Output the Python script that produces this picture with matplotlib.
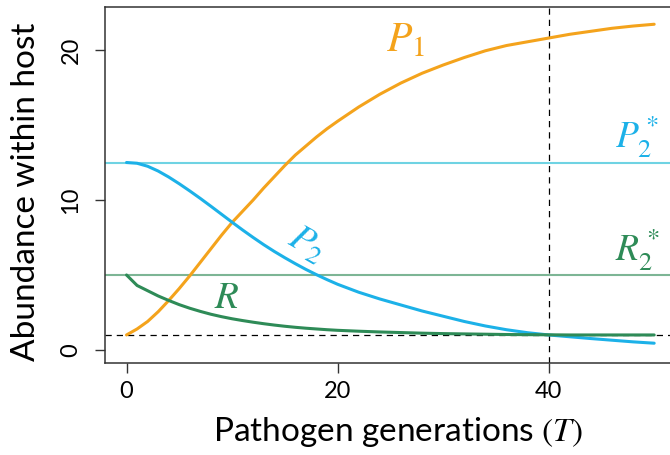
import numpy as np
import matplotlib.pyplot as plt

plt.rcParams['font.family'] = ['Lato', 'DejaVu Sans']
plt.rcParams['mathtext.fontset'] = 'stix'

# generations where values were read
T = [0, 1, 2, 3, 4, 5, 6, 7, 8, 9, 10, 11, 12, 13, 14, 15, 16, 17, 18, 19, 20,
     22, 24, 26, 28, 30, 32, 34, 36, 38, 40, 42, 44, 46, 48, 50]
# pathogen 1
P1 = [1.0, 1.4, 1.9, 2.55, 3.3, 4.1, 4.95, 5.85, 6.75, 7.65, 8.5, 9.25, 10.0, 10.8, 11.55,
      12.3, 13.0, 13.6, 14.2, 14.75, 15.25,
      16.2, 17.05, 17.8, 18.45, 19.0, 19.5, 19.95, 20.3, 20.55, 20.8, 21.05, 21.25, 21.45, 21.6, 21.72]
# pathogen 2
P2 = [12.5, 12.45, 12.25, 11.93, 11.53, 11.08, 10.6, 10.1, 9.58, 9.05, 8.52, 8.0, 7.5, 7.02, 6.57,
      6.15, 5.75, 5.37, 5.02, 4.69, 4.38,
      3.85, 3.4, 3.0, 2.6, 2.25, 1.9, 1.6, 1.35, 1.15, 1.0, 0.88, 0.76, 0.65, 0.54, 0.45]
# resource
R = [5.0, 4.3, 3.95, 3.6, 3.3, 3.02, 2.78, 2.57, 2.38, 2.22, 2.08, 1.96, 1.85, 1.75, 1.66,
     1.58, 1.51, 1.45, 1.4, 1.35, 1.31,
     1.25, 1.2, 1.16, 1.12, 1.09, 1.07, 1.05, 1.03, 1.02, 1.01, 1.0, 1.0, 1.0, 1.0, 1.0]

P2_star = 12.5
R2_star = 5.0
R_crit = 1.0
T_mark = 40

c_p1 = '#f4a31c'
c_p2 = '#1cb1e8'
c_r = '#2e8b57'

fig = plt.figure(figsize=(6.7, 4.55), dpi=100)
ax = fig.add_axes([105 / 670, 1 - 363 / 455, 1 - 105 / 670, 356 / 455])

ax.axhline(P2_star, color='#6fd3e3', lw=1.5)
ax.axhline(R2_star, color='#7db595', lw=1.5)
ax.axhline(R_crit, color='black', lw=0.9, ls=(0, (5, 4)))
ax.axvline(T_mark, color='black', lw=0.9, ls=(0, (5, 4)))

ax.plot(T, P1, color=c_p1, lw=2.2, solid_capstyle='round', solid_joinstyle='round')
ax.plot(T, P2, color=c_p2, lw=2.2, solid_capstyle='round', solid_joinstyle='round')
ax.plot(T, R, color=c_r, lw=2.2, solid_capstyle='round', solid_joinstyle='round')

ax.text(26.4, 20.7, r'$P_1$', color=c_p1, fontsize=30, ha='center', va='center')
ax.text(17.1, 7.1, r'$P_2$', color=c_p2, fontsize=27, ha='center', va='center', rotation=-30)
ax.text(9.5, 3.5, r'$R$', color=c_r, fontsize=28, ha='center', va='center')
ax.text(48.4, 14.2, r'$P_2^*$', color=c_p2, fontsize=27, ha='center', va='center')
ax.text(48.4, 6.7, r'$R_2^*$', color=c_r, fontsize=27, ha='center', va='center')

ax.set_xlim(-2.04, 51.5)
ax.set_ylim(-0.87, 22.87)
ax.set_xticks([0, 20, 40])
ax.set_yticks([0, 10, 20])
ax.tick_params(axis='both', length=7, width=1, color='#333333', labelsize=17)
ax.tick_params(axis='x', pad=6)
ax.tick_params(axis='y', pad=10)
for lab in ax.get_yticklabels():
    lab.set_rotation(90)
    lab.set_va('center')

ax.spines['right'].set_visible(False)
for s in ['left', 'top', 'bottom']:
    ax.spines[s].set_color('#333333')
    ax.spines[s].set_linewidth(1.1)

ax.set_xlabel(r'Pathogen generations $\mathit{(T)}$', fontsize=24, va='center')
ax.set_ylabel('Abundance within host', fontsize=24, va='center')
ax.xaxis.set_label_coords(0.519, -0.194)
ax.yaxis.set_label_coords(-0.14, 0.482)

fig.savefig('out.png', dpi=100)
